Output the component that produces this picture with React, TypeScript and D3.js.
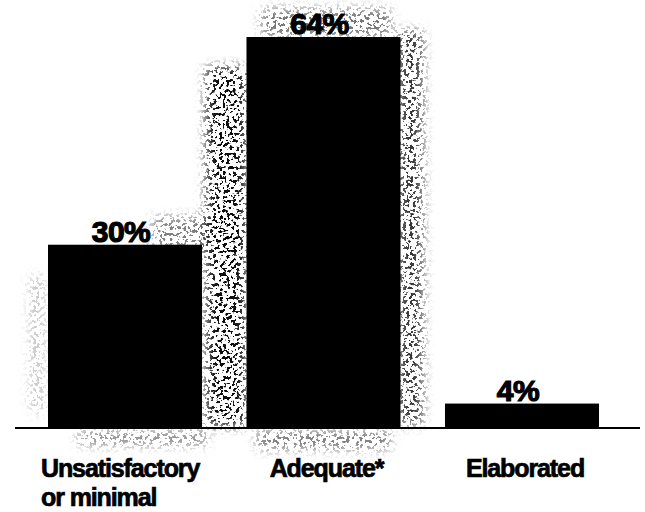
import React from "react";
import * as d3 from "d3";

// Share of responses in each rating category (percent)
const categories = ["Unsatisfactory or minimal", "Adequate*", "Elaborated"];
const categoryLines = [["Unsatisfactory", "or minimal"], ["Adequate*"], ["Elaborated"]];
const percents = [30, 64, 4];
const valueLabels = ["30%", "64%", "4%"];

const W = 645;
const H = 512;
const FONT = "'Liberation Sans', Arial, Helvetica, sans-serif";

export default function App() {
  const x = d3
    .scaleBand<string>()
    .domain(categories)
    .range([8.3, 638.7])
    .paddingInner(0.224)
    .paddingOuter(0.2);
  const y = d3
    .scaleLinear()
    .domain([0, d3.max(percents) as number])
    .range([428, 37]);
  const bw = x.bandwidth();
  const base = y(0);

  const xa = x(categories[0]) as number;
  const xb = x(categories[1]) as number;
  const topB = y(percents[1]);
  const topA = y(percents[0]);

  // soft density regions for the halftone speckle around the bars
  const halo = [
    { x: xa + bw + 4, y: topB + 30, w: xb - (xa + bw) - 4, h: base - topB - 32, o: 0.95 },
    { x: xa + bw - 50, y: topA - 28, w: xb - (xa + bw) + 50, h: 34, o: 0.5 },
    { x: xb + bw - 2, y: topB - 6, w: 24, h: base - topB + 2, o: 0.8 },
    { x: xb + 15, y: topB - 28, w: bw - 25, h: 28, o: 0.55 },
    { x: xa + 30, y: base + 3, w: bw - 25, h: 14, o: 0.5 },
    { x: xb + 10, y: base + 3, w: bw - 20, h: 18, o: 0.55 },
    { x: xa - 18, y: topA + 30, w: 14, h: base - topA - 45, o: 0.25 },
  ];

  return (
    <svg
      width={W}
      height={H}
      viewBox={`0 0 ${W} ${H}`}
      style={{ position: "absolute", left: 0, top: 0, background: "#fff" }}
    >
      <defs>
        <filter id="speckle" filterUnits="userSpaceOnUse" x="0" y="0" width={W} height={H}>
          <feTurbulence type="fractalNoise" baseFrequency="0.3" numOctaves="2" seed="11" result="n" />
          <feColorMatrix
            in="n"
            type="matrix"
            values="0 0 0 0 0  0 0 0 0 0  0 0 0 0 0  -24 0 0 0 10.9"
          />
        </filter>
        <filter id="soft" filterUnits="userSpaceOnUse" x="0" y="0" width={W} height={H}>
          <feGaussianBlur stdDeviation="6" />
        </filter>
        <mask id="haloMask" maskUnits="userSpaceOnUse" x="0" y="0" width={W} height={H}>
          <rect x={0} y={0} width={W} height={H} fill="#000" />
          <g filter="url(#soft)">
            {halo.map((r, i) => (
              <rect key={i} x={r.x} y={r.y} width={r.w} height={r.h} fill="#fff" fillOpacity={r.o} />
            ))}
          </g>
        </mask>
      </defs>

      <rect width={W} height={H} fill="#fff" />

      <g mask="url(#haloMask)">
        <rect x={0} y={0} width={W} height={H} filter="url(#speckle)" />
      </g>

      {categories.map((c, i) => (
        <rect
          key={c}
          x={x(c)}
          y={y(percents[i])}
          width={bw}
          height={base - y(percents[i])}
          fill="#000"
        />
      ))}

      <line x1={15} x2={640} y1={base} y2={base} stroke="#000" strokeWidth={2} />

      {categories.map((c, i) => (
        <text
          key={c + "-v"}
          x={(x(c) as number) + bw / 2 - 4}
          y={y(percents[i]) - 3}
          textAnchor="middle"
          fontFamily={FONT}
          fontWeight="bold"
          fontSize={30}
          letterSpacing={-0.5}
          stroke="#000"
          strokeWidth={1.2}
          fill="#000"
        >
          {valueLabels[i]}
        </text>
      ))}

      {categories.map((c, i) => {
        const lines = categoryLines[i];
        const multi = lines.length > 1;
        const tx = multi ? (x(c) as number) - 7 : (x(c) as number) + bw / 2 + 3;
        return (
          <text
            key={c + "-l"}
            x={tx}
            y={477}
            textAnchor={multi ? "start" : "middle"}
            fontFamily={FONT}
            fontWeight="bold"
            fontSize={25}
            letterSpacing={-1.1}
            stroke="#000"
            strokeWidth={0.7}
            fill="#000"
          >
            {lines.map((t, j) => (
              <tspan key={j} x={tx} dy={j === 0 ? 0 : 29}>
                {t}
              </tspan>
            ))}
          </text>
        );
      })}
    </svg>
  );
}
